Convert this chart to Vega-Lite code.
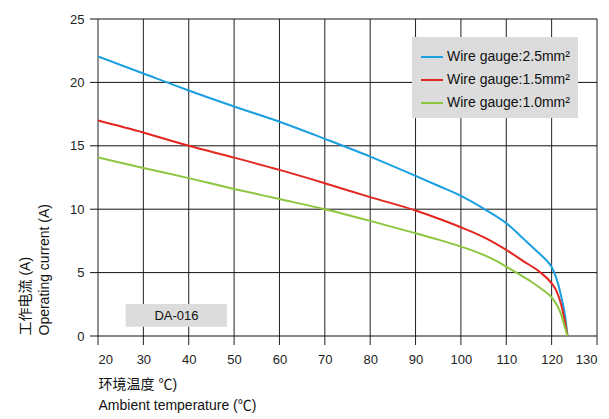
{
  "$schema": "https://vega.github.io/schema/vega-lite/v6.json",
  "width": 499,
  "height": 317,
  "autosize": {"type": "none"},
  "padding": {"left": 98, "top": 19, "right": 12, "bottom": 83},
  "background": "white",
  "config": {
    "font": "Liberation Sans, Noto Sans CJK SC",
    "view": {"stroke": null},
    "axis": {
      "grid": false,
      "ticks": false,
      "domain": false,
      "labelFont": "Liberation Sans",
      "labelFontSize": 13,
      "labelColor": "#222",
      "titleFont": "Liberation Sans, Noto Sans CJK SC",
      "titleFontSize": 14,
      "titleFontWeight": "normal",
      "titleColor": "#111"
    }
  },
  "layer": [
    {
      "data": {"values": [{"t": 20}, {"t": 30}, {"t": 40}, {"t": 50}, {"t": 60}, {"t": 70}, {"t": 80}, {"t": 90}, {"t": 100}, {"t": 110}, {"t": 120}, {"t": 130}]},
      "mark": {"type": "rule", "color": "#222", "strokeWidth": 1},
      "encoding": {
        "x": {"field": "t", "type": "quantitative"},
        "y": {"datum": -0.71, "type": "quantitative"},
        "y2": {"datum": 25}
      }
    },
    {
      "data": {"values": [{"I": 0}, {"I": 5}, {"I": 10}, {"I": 15}, {"I": 20}, {"I": 25}]},
      "mark": {"type": "rule", "color": "#111", "strokeWidth": 1},
      "encoding": {
        "y": {"field": "I", "type": "quantitative"},
        "x": {"datum": 18.24, "type": "quantitative"},
        "x2": {"datum": 130}
      }
    },
    {
      "data": {
        "values": [
          {"t": 20, "I": 22.05, "gauge": "Wire gauge:2.5mm²"},
          {"t": 30, "I": 20.7, "gauge": "Wire gauge:2.5mm²"},
          {"t": 40, "I": 19.36, "gauge": "Wire gauge:2.5mm²"},
          {"t": 50, "I": 18.1, "gauge": "Wire gauge:2.5mm²"},
          {"t": 60, "I": 16.9, "gauge": "Wire gauge:2.5mm²"},
          {"t": 70, "I": 15.55, "gauge": "Wire gauge:2.5mm²"},
          {"t": 80, "I": 14.15, "gauge": "Wire gauge:2.5mm²"},
          {"t": 90, "I": 12.63, "gauge": "Wire gauge:2.5mm²"},
          {"t": 95, "I": 11.85, "gauge": "Wire gauge:2.5mm²"},
          {"t": 100, "I": 11.05, "gauge": "Wire gauge:2.5mm²"},
          {"t": 105, "I": 10.05, "gauge": "Wire gauge:2.5mm²"},
          {"t": 110, "I": 8.9, "gauge": "Wire gauge:2.5mm²"},
          {"t": 114, "I": 7.6, "gauge": "Wire gauge:2.5mm²"},
          {"t": 117, "I": 6.6, "gauge": "Wire gauge:2.5mm²"},
          {"t": 119, "I": 5.9, "gauge": "Wire gauge:2.5mm²"},
          {"t": 120, "I": 5.45, "gauge": "Wire gauge:2.5mm²"},
          {"t": 121, "I": 4.6, "gauge": "Wire gauge:2.5mm²"},
          {"t": 122, "I": 3.3, "gauge": "Wire gauge:2.5mm²"},
          {"t": 123, "I": 1.5, "gauge": "Wire gauge:2.5mm²"},
          {"t": 123.5, "I": 0, "gauge": "Wire gauge:2.5mm²"},
          {"t": 20, "I": 17.0, "gauge": "Wire gauge:1.5mm²"},
          {"t": 30, "I": 16.05, "gauge": "Wire gauge:1.5mm²"},
          {"t": 40, "I": 15.0, "gauge": "Wire gauge:1.5mm²"},
          {"t": 50, "I": 14.07, "gauge": "Wire gauge:1.5mm²"},
          {"t": 60, "I": 13.1, "gauge": "Wire gauge:1.5mm²"},
          {"t": 70, "I": 12.05, "gauge": "Wire gauge:1.5mm²"},
          {"t": 80, "I": 10.95, "gauge": "Wire gauge:1.5mm²"},
          {"t": 90, "I": 9.9, "gauge": "Wire gauge:1.5mm²"},
          {"t": 95, "I": 9.27, "gauge": "Wire gauge:1.5mm²"},
          {"t": 100, "I": 8.58, "gauge": "Wire gauge:1.5mm²"},
          {"t": 105, "I": 7.8, "gauge": "Wire gauge:1.5mm²"},
          {"t": 110, "I": 6.79, "gauge": "Wire gauge:1.5mm²"},
          {"t": 114, "I": 5.85, "gauge": "Wire gauge:1.5mm²"},
          {"t": 117.4, "I": 5.05, "gauge": "Wire gauge:1.5mm²"},
          {"t": 120, "I": 4.15, "gauge": "Wire gauge:1.5mm²"},
          {"t": 121, "I": 3.6, "gauge": "Wire gauge:1.5mm²"},
          {"t": 122, "I": 2.6, "gauge": "Wire gauge:1.5mm²"},
          {"t": 123, "I": 1.0, "gauge": "Wire gauge:1.5mm²"},
          {"t": 123.5, "I": 0, "gauge": "Wire gauge:1.5mm²"},
          {"t": 20, "I": 14.07, "gauge": "Wire gauge:1.0mm²"},
          {"t": 30, "I": 13.25, "gauge": "Wire gauge:1.0mm²"},
          {"t": 40, "I": 12.45, "gauge": "Wire gauge:1.0mm²"},
          {"t": 50, "I": 11.6, "gauge": "Wire gauge:1.0mm²"},
          {"t": 60, "I": 10.8, "gauge": "Wire gauge:1.0mm²"},
          {"t": 70, "I": 10.0, "gauge": "Wire gauge:1.0mm²"},
          {"t": 80, "I": 9.08, "gauge": "Wire gauge:1.0mm²"},
          {"t": 90, "I": 8.1, "gauge": "Wire gauge:1.0mm²"},
          {"t": 95, "I": 7.6, "gauge": "Wire gauge:1.0mm²"},
          {"t": 100, "I": 7.05, "gauge": "Wire gauge:1.0mm²"},
          {"t": 105, "I": 6.4, "gauge": "Wire gauge:1.0mm²"},
          {"t": 108, "I": 5.88, "gauge": "Wire gauge:1.0mm²"},
          {"t": 110, "I": 5.47, "gauge": "Wire gauge:1.0mm²"},
          {"t": 115, "I": 4.4, "gauge": "Wire gauge:1.0mm²"},
          {"t": 118, "I": 3.65, "gauge": "Wire gauge:1.0mm²"},
          {"t": 120, "I": 3.05, "gauge": "Wire gauge:1.0mm²"},
          {"t": 121, "I": 2.55, "gauge": "Wire gauge:1.0mm²"},
          {"t": 122, "I": 1.8, "gauge": "Wire gauge:1.0mm²"},
          {"t": 123, "I": 0.6, "gauge": "Wire gauge:1.0mm²"},
          {"t": 123.5, "I": 0, "gauge": "Wire gauge:1.0mm²"}
        ]
      },
      "mark": {"type": "line", "strokeWidth": 2, "interpolate": "monotone", "clip": true},
      "encoding": {
        "x": {
          "field": "t",
          "type": "quantitative",
          "scale": {"domain": [20, 130], "nice": false, "zero": false},
          "axis": {
            "values": [20, 30, 40, 50, 60, 70, 80, 90, 100, 110, 120, 130],
            "labelPadding": 17,
            "title": ["环境温度  ℃)", "Ambient temperature (℃)"],
            "titleAlign": "left",
            "titleAnchor": "start",
            "titleBaseline": "top",
            "titleX": 0,
            "titleY": 41,
            "titleLineHeight": 21
          }
        },
        "y": {
          "field": "I",
          "type": "quantitative",
          "scale": {"domain": [0, 25], "nice": false},
          "axis": {
            "values": [0, 5, 10, 15, 20, 25],
            "labelPadding": 14,
            "title": ["工作电流 (A)", "Operating current (A)"],
            "titleAngle": -90,
            "titleAlign": "left",
            "titleBaseline": "top",
            "titleX": -80,
            "titleY": 316,
            "titleLineHeight": 19
          }
        },
        "color": {
          "field": "gauge",
          "type": "nominal",
          "sort": ["Wire gauge:2.5mm²", "Wire gauge:1.5mm²", "Wire gauge:1.0mm²"],
          "scale": {
            "domain": ["Wire gauge:2.5mm²", "Wire gauge:1.5mm²", "Wire gauge:1.0mm²"],
            "range": ["#1a9fe0", "#e3261f", "#8cc63f"]
          },
          "legend": {
            "title": null,
            "orient": "none",
            "legendX": 314,
            "legendY": 18,
            "fillColor": "#dcdcdc",
            "padding": 8,
            "symbolType": "stroke",
            "symbolSize": 484,
            "symbolStrokeWidth": 2,
            "labelFont": "Liberation Sans",
            "labelFontSize": 14,
            "labelColor": "#111",
            "labelOffset": 3,
            "rowPadding": 4
          }
        }
      }
    },
    {
      "data": {"values": [{"label": "DA-016"}]},
      "mark": {"type": "rect", "color": "#dcdcdc"},
      "encoding": {
        "x": {"datum": 26.1, "type": "quantitative"},
        "x2": {"datum": 48.4},
        "y": {"datum": 0.73, "type": "quantitative"},
        "y2": {"datum": 2.53}
      }
    },
    {
      "data": {"values": [{"label": "DA-016"}]},
      "mark": {"type": "text", "font": "Liberation Sans", "fontSize": 13, "color": "#111", "align": "center", "baseline": "middle"},
      "encoding": {
        "x": {"datum": 37.3, "type": "quantitative"},
        "y": {"datum": 1.6, "type": "quantitative"},
        "text": {"field": "label"}
      }
    }
  ]
}
